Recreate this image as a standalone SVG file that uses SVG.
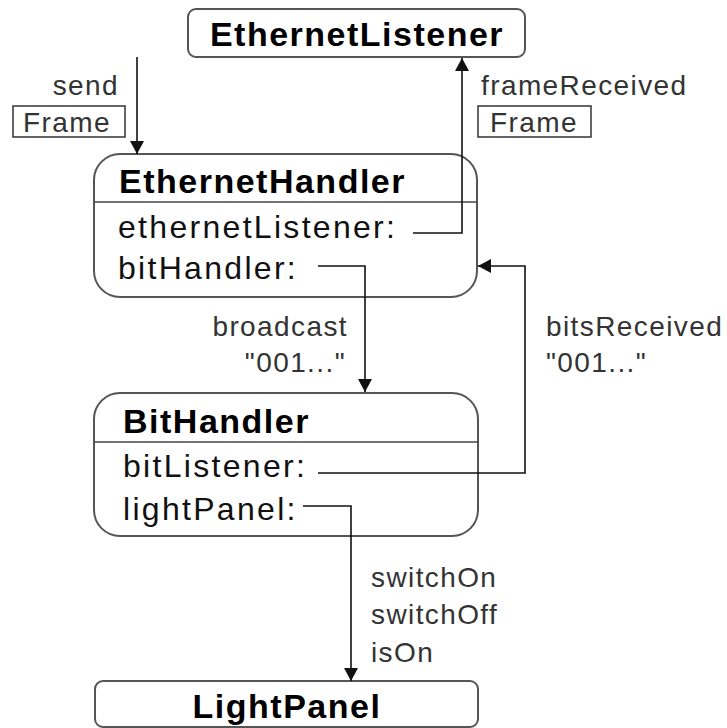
<svg xmlns="http://www.w3.org/2000/svg" width="727" height="728" viewBox="0 0 727 728">
<defs>
<marker id="ah" markerWidth="14" markerHeight="14" viewBox="0 0 14 14" refX="13" refY="7" orient="auto" markerUnits="userSpaceOnUse">
<path d="M0,0 L13,7 L0,14 Z" fill="#111"/>
</marker>
</defs>
<style>
.box{fill:#fff;stroke:#555;stroke-width:2}
.div{stroke:#444;stroke-width:1.5}
.hdr{font-family:"Liberation Sans",Arial,sans-serif;font-weight:bold;font-size:34px;letter-spacing:1.5px;fill:#000}
.mem{font-family:"Liberation Sans",Arial,sans-serif;font-size:32px;letter-spacing:2.3px;fill:#111}
.lbl{font-family:"Liberation Sans",Arial,sans-serif;font-size:28px;letter-spacing:1.4px;fill:#333}
.lbox{fill:none;stroke:#333;stroke-width:1.5}
.con{fill:none;stroke:#111;stroke-width:1.6}
</style>
<rect width="727" height="728" fill="#fff"/>
<g id="EthernetListener">
<rect class="box" x="188" y="9" width="337" height="48" rx="8"/>
<text class="hdr" x="357" y="46" text-anchor="middle">EthernetListener</text>
</g>
<g id="EthernetHandler">
<rect class="box" x="94" y="154" width="383" height="143" rx="26"/>
<line class="div" x1="94" y1="202" x2="477" y2="202"/>
<text class="hdr" x="119" y="193">EthernetHandler</text>
<text class="mem" x="118" y="238">ethernetListener:</text>
<text class="mem" x="118" y="279">bitHandler:</text>
</g>
<g id="BitHandler">
<rect class="box" x="94" y="393" width="384" height="143" rx="26"/>
<line class="div" x1="94" y1="442" x2="478" y2="442"/>
<text class="hdr" x="123" y="433">BitHandler</text>
<text class="mem" x="123" y="477">bitListener:</text>
<text class="mem" x="123" y="520">lightPanel:</text>
</g>
<g id="LightPanel">
<rect class="box" x="95" y="681" width="383" height="46" rx="8"/>
<text class="hdr" x="287" y="718" text-anchor="middle">LightPanel</text>
</g>
<g id="connectors">
<path class="con" d="M137,57 V154" marker-end="url(#ah)"/>
<path class="con" d="M413,233 H462 V58" marker-end="url(#ah)"/>
<path class="con" d="M318,266 H365 V392" marker-end="url(#ah)"/>
<path class="con" d="M318,473 H525 V266 H478" marker-end="url(#ah)"/>
<path class="con" d="M303,506 H351 V681" marker-end="url(#ah)"/>
<text class="lbl" x="119" y="95" text-anchor="end">send</text>
<rect class="lbox" x="13" y="106" width="112" height="31"/>
<text class="lbl" x="23" y="132">Frame</text>
<text class="lbl" x="481" y="95">frameReceived</text>
<rect class="lbox" x="478" y="106" width="113" height="31"/>
<text class="lbl" x="490" y="132">Frame</text>
<text class="lbl" x="348" y="336" text-anchor="end">broadcast</text>
<text class="lbl" x="346" y="372" text-anchor="end">"001..."</text>
<text class="lbl" x="546" y="336">bitsReceived</text>
<text class="lbl" x="546" y="372">"001..."</text>
<text class="lbl" x="371" y="587">switchOn</text>
<text class="lbl" x="371" y="624">switchOff</text>
<text class="lbl" x="371" y="662">isOn</text>
</g>
</svg>
